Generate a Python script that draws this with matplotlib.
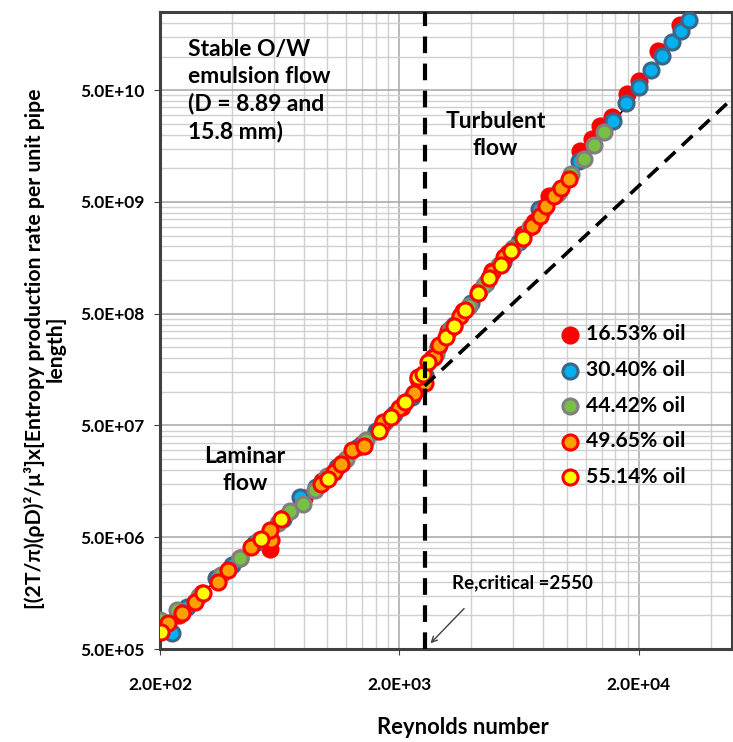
import matplotlib
matplotlib.use("Agg")
import matplotlib.pyplot as plt
from matplotlib.ticker import FixedLocator, NullFormatter

plt.rcParams['font.family'] = ['Lato', 'DejaVu Sans']

# 16.53% oil
red_re = [205, 240, 300, 350, 430, 575, 650, 800, 950, 1150, 1400, 1700, 2050, 2400,
          2750, 3200, 3700, 4300, 4900, 5700, 6600, 7300, 8430, 11430, 12760, 13850,
          15450, 17800, 20000, 24200, 29800]
red_y = [7.35e5, 1.01e6, 1.58e6, 2.14e6, 3.24e6, 3.96e6, 7.4e6, 1.12e7, 1.58e7, 2.31e7,
         3.43e7, 5.06e7, 7.35e7, 1.3e8, 2.0e8, 3.5e8, 5.3e8, 7.9e8, 1.2e9, 1.75e9, 2.6e9,
         3.3e9, 5.6e9, 1.43e10, 1.82e10, 2.39e10, 2.9e10, 4.6e10, 6.0e10, 1.12e11, 1.9e11]

# 30.40% oil
blue_re = [224, 260, 344, 400, 500, 650, 766, 900, 1100, 1350, 1600, 1900, 2250, 2550,
           2900, 3400, 4000, 4600, 5400, 6300, 7660, 9300, 11250, 15700, 17700, 20000,
           22600, 25000, 27700, 30100, 32500]
blue_y = [6.9e5, 1.18e6, 2.14e6, 2.8e6, 4.4e6, 7.3e6, 1.15e7, 1.42e7, 2.12e7, 3.2e7,
          4.5e7, 6.3e7, 9.0e7, 1.4e8, 2.5e8, 4.0e8, 6.2e8, 9.5e8, 1.45e9, 2.2e9, 4.3e9,
          6.3e9, 1.16e10, 2.64e10, 3.8e10, 5.3e10, 7.65e10, 1.02e11, 1.35e11, 1.68e11, 2.11e11]

# 44.42% oil
green_re = [200, 235, 290, 360, 431, 520, 620, 700, 792, 885, 1000, 1200, 1450, 1750,
            2100, 2500, 2850, 3300, 3900, 4500, 5200, 6000, 7000, 8000, 9200, 10440,
            11800, 13070, 14300]
green_y = [9.1e5, 1.11e6, 1.5e6, 2.3e6, 3.23e6, 4.7e6, 6.7e6, 8.6e6, 1.0e7, 1.31e7,
           1.75e7, 2.5e7, 3.7e7, 5.4e7, 7.9e7, 1.35e8, 2.2e8, 3.7e8, 5.9e8, 9.0e8, 1.35e9,
           1.95e9, 3.0e9, 4.2e9, 6.0e9, 8.9e9, 1.21e10, 1.61e10, 2.12e10]

# 49.65% oil
orange_re = [216, 246, 280, 350, 385, 482, 584, 575, 944, 1071, 1143, 1270, 1418, 1710,
             2000, 2300, 2430, 2560, 2800, 2940, 3600, 4900, 5500, 7190, 7710, 8170,
             8850, 9440, 10220]
orange_y = [8.5e5, 1.05e6, 1.32e6, 2.0e6, 2.53e6, 4.1e6, 4.7e6, 5.8e6, 1.51e7, 1.91e7,
            2.27e7, 3.0e7, 3.3e7, 5.4e7, 7.1e7, 9.7e7, 1.35e8, 1.19e8, 2.04e8, 2.6e8,
            4.8e8, 1.17e9, 1.6e9, 3.05e9, 3.75e9, 4.6e9, 5.66e9, 6.7e9, 7.97e9]

# 55.14% oil
yellow_re = [202, 303, 531, 643, 1005, 1650, 1850, 2120, 2385, 2510, 2630, 3130, 3390,
             3770, 4280, 4740, 5310, 5840, 6570]
yellow_y = [7.1e5, 1.57e6, 4.86e6, 7.3e6, 1.67e7, 4.5e7, 5.9e7, 8.1e7, 1.35e8, 1.45e8,
            1.84e8, 3.1e8, 3.9e8, 5.4e8, 7.6e8, 1.05e9, 1.37e9, 1.83e9, 2.4e9]

# trend lines and laminar extrapolation
lam_fit_re = [200, 2550]
lam_fit_y = [7.0e5, 1.14e8]
turb_fit_re = [2550, 34000]
turb_fit_y = [1.45e8, 2.3e11]
lam_ext_re = [2550, 50000]
lam_ext_y = [1.13e8, 4.33e10]
re_critical = 2550

x_major = [200, 2000, 20000]
x_labels = ['2.0E+02', '2.0E+03', '2.0E+04']
y_major = [5e5, 5e6, 5e7, 5e8, 5e9, 5e10]
y_labels = ['5.0E+05', '5.0E+06', '5.0E+07', '5.0E+08', '5.0E+09', '5.0E+10']

series = [
    (red_re, red_y, '#ff0000', '#ff0000', '16.53% oil'),
    (blue_re, blue_y, '#00b0f0', '#3b6688', '30.40% oil'),
    (green_re, green_y, '#77c043', '#808080', '44.42% oil'),
    (orange_re, orange_y, '#ffa000', '#ff0000', '49.65% oil'),
    (yellow_re, yellow_y, '#ffff00', '#ff0000', '55.14% oil'),
]

fig = plt.figure(figsize=(7.33, 7.42), dpi=100)
ax = fig.add_axes([0.2183, 0.1253, 0.780, 0.8585])

ax.set_xscale('log')
ax.set_yscale('log')
ax.set_xlim(200, 49000)
ax.set_ylim(5e5, 2.5e11)

ax.plot(lam_fit_re, lam_fit_y, color='black', lw=1.2, zorder=2)
ax.plot(turb_fit_re, turb_fit_y, color='black', lw=1.2, zorder=2)

for i, (xs, ys, face, edge, lab) in enumerate(series):
    ax.scatter(xs, ys, s=118, facecolor=face, edgecolor=edge, linewidths=2.2,
               label=lab, zorder=3 + i)

ax.plot(lam_ext_re, lam_ext_y, color='black', lw=2.6, ls=(0, (4, 2.5)), zorder=9)
ax.axvline(re_critical, color='black', lw=3, ls=(0, (4, 2.5)), zorder=9)

# ticks and grid
ax.xaxis.set_major_locator(FixedLocator(x_major))
ax.yaxis.set_major_locator(FixedLocator(y_major))
x_minor = [b * k for b in x_major for k in range(2, 10)]
y_minor = [b * k for b in y_major for k in range(2, 10)]
ax.xaxis.set_minor_locator(FixedLocator(x_minor))
ax.yaxis.set_minor_locator(FixedLocator(y_minor))
ax.xaxis.set_minor_formatter(NullFormatter())
ax.yaxis.set_minor_formatter(NullFormatter())
ax.set_xticklabels(x_labels, fontsize=12.5, fontweight='bold')
ax.set_yticklabels(y_labels, fontsize=12.5, fontweight='bold')
ax.tick_params(which='major', length=4, color='#404040')
ax.tick_params(which='minor', length=0)
ax.tick_params(axis='x', which='major', pad=16)
ax.tick_params(axis='y', which='major', pad=7)
ax.grid(which='major', color='#a6a6a6', lw=1.1)
ax.grid(which='minor', color='#d0d0d0', lw=1.0)
ax.set_axisbelow(True)
for sp in ax.spines.values():
    sp.set_color('#404040')
    sp.set_linewidth(2.2)

# text
ax.text(0.049, 0.958, 'Stable O/W\nemulsion flow\n(D = 8.89 and\n15.8 mm)',
        transform=ax.transAxes, fontsize=16.5, fontweight='bold', va='top',
        ha='left', linespacing=1.35)
ax.text(0.587, 0.807, 'Turbulent\nflow', transform=ax.transAxes, fontsize=16.5,
        fontweight='bold', ha='center', va='center', linespacing=1.4)
ax.text(0.149, 0.281, 'Laminar\nflow', transform=ax.transAxes, fontsize=16.5,
        fontweight='bold', ha='center', va='center', linespacing=1.4)
ax.text(0.51, 0.104, 'Re,critical =2550', transform=ax.transAxes, fontsize=13.5,
        fontweight='bold', ha='left', va='center')
ax.annotate('', xy=(2650, 5.4e5), xytext=(3800, 1.2e6),
            arrowprops=dict(arrowstyle='->', color='#404040', lw=1.0))

ax.legend(loc='center left', bbox_to_anchor=(0.680, 0.382), frameon=False,
          prop={'weight': 'bold', 'size': 15.2}, handlelength=1.0,
          handletextpad=0.26, labelspacing=0.74, borderpad=0, scatterpoints=1)

fig.text(45 / 733, 0.53,
         '[(2T/π)(ρD)²/μ³]x[Entropy production rate per unit pipe\nlength]',
         rotation=90, ha='center', va='center', multialignment='center',
         fontsize=15.3, fontweight='bold', linespacing=1.0)
fig.text(463 / 733, 1 - 728 / 742, 'Reynolds number', ha='center', va='center',
         fontsize=15.8, fontweight='bold')

fig.savefig('out.png', dpi=100)
